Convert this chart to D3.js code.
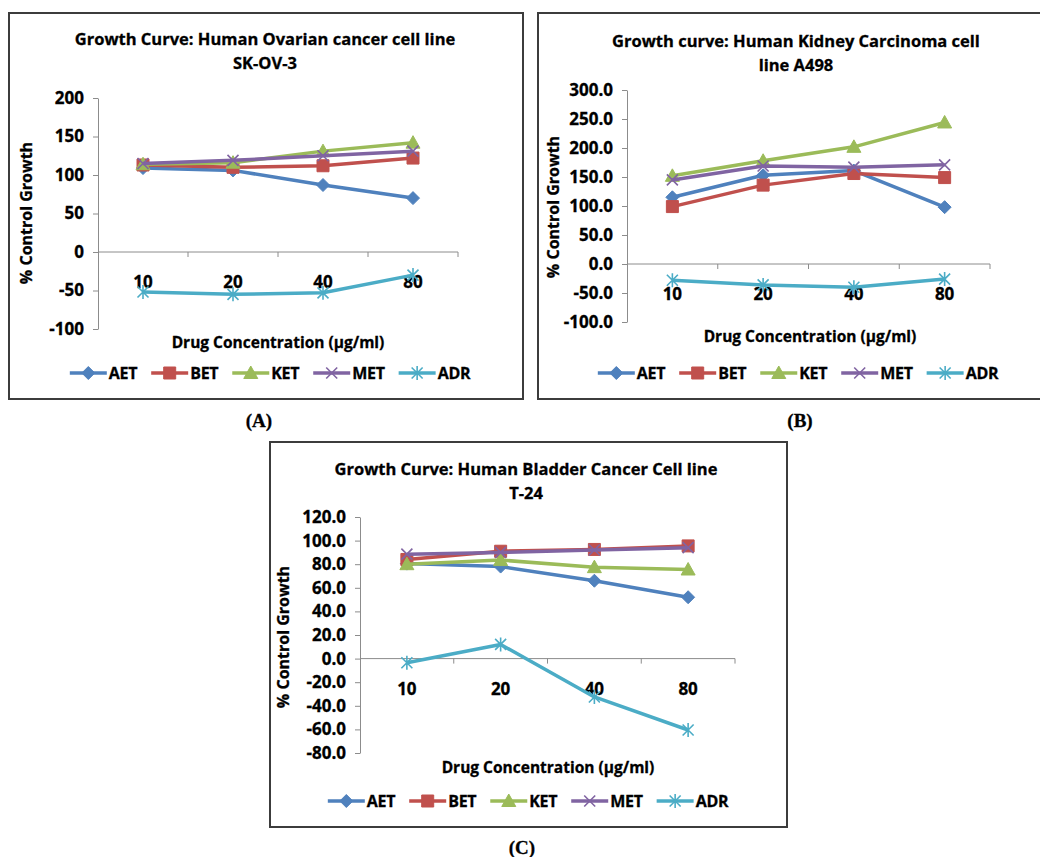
<!DOCTYPE html>
<html>
<head>
<meta charset="utf-8">
<style>
  body { margin: 0; background: #fff; }
  svg { display: block; }
  text { font-family: "Open Sans", Lato, sans-serif; font-weight: 700; fill: #000; stroke: #000; stroke-width: 0.3px; }
  .tick text { font-size: 17px; }
  .axis path, .axis line { stroke: #8c8c8c; }
  .caption { font-family: "Liberation Serif", "DejaVu Serif", serif; font-size: 19px; }
</style>
</head>
<body>
<script src="https://cdn.jsdelivr.net/npm/d3@7/dist/d3.min.js"></script>
<script>
  const categories = ['10', '20', '40', '80'];
  const seriesNames = ['AET', 'BET', 'KET', 'MET', 'ADR'];

  // panel A: SK-OV-3
  const ovarianAET = [109, 106, 87, 70];
  const ovarianBET = [113, 110, 112, 122];
  const ovarianKET = [114, 116, 131, 142];
  const ovarianMET = [115, 119, 125, 131];
  const ovarianADR = [-52, -55, -53, -30];
  const ovarianTicks = [-100, -50, 0, 50, 100, 150, 200];

  // panel B: A498
  const kidneyAET = [115, 153, 161, 98];
  const kidneyBET = [99, 136, 156, 149];
  const kidneyKET = [152, 178, 202, 244];
  const kidneyMET = [145, 169, 167, 171];
  const kidneyADR = [-28, -36, -40, -26];
  const kidneyTicks = [-100, -50, 0, 50, 100, 150, 200, 250, 300];

  // panel C: T-24
  const bladderAET = [80.5, 78, 66, 52];
  const bladderBET = [84, 91, 92.5, 95.5];
  const bladderKET = [80, 83.5, 77.5, 75.5];
  const bladderMET = [88.5, 90, 92, 94];
  const bladderADR = [-3.5, 12, -32.5, -60.5];
  const bladderTicks = [-80, -60, -40, -20, 0, 20, 40, 60, 80, 100, 120];

  const colors = {AET: '#4f81bd', BET: '#c0504d', KET: '#9bbb59', MET: '#8064a2', ADR: '#4bacc6'};

  // plain hyphen for negatives, like the spreadsheet does
  const fmt = spec => {
    const f = d3.format(spec);
    return v => f(v).replace('\u2212', '-');
  };

  const svg = d3.select('body').append('svg')
    .attr('width', 1040)
    .attr('height', 857);

  // marker paths, centred on 0,0
  const marker = {
    AET: 'M0,-6.5L6.5,0L0,6.5L-6.5,0Z',
    BET: 'M-6,-6H6V6H-6Z',
    KET: 'M0,-7L7,5.5L-7,5.5Z',
    MET: 'M-5.5,-5.5L5.5,5.5M5.5,-5.5L-5.5,5.5',
    ADR: 'M-5.5,-5.5L5.5,5.5M5.5,-5.5L-5.5,5.5M0,-7V7'
  };
  const filled = {AET: true, BET: true, KET: true, MET: false, ADR: false};

  function drawMarker(g, name, x, y) {
    g.append('path')
      .attr('d', marker[name])
      .attr('transform', `translate(${x},${y})`)
      .attr('fill', filled[name] ? colors[name] : 'none')
      .attr('stroke', colors[name])
      .attr('stroke-width', filled[name] ? 1 : 1.6);
  }

  function panel(p) {
    const g = svg.append('g');

    g.append('rect')
      .attr('x', p.box[0]).attr('y', p.box[1])
      .attr('width', p.box[2]).attr('height', p.box[3])
      .attr('fill', '#fff')
      .attr('stroke', '#3c3c3c')
      .attr('stroke-width', 2);

    const x = d3.scaleBand().domain(categories).range([p.plot.l, p.plot.r]);
    const y = d3.scaleLinear().domain([p.ticks[0], p.ticks[p.ticks.length - 1]])
      .range([p.plot.b, p.plot.t]);

    // title
    const title = g.append('text')
      .attr('text-anchor', 'middle')
      .style('font-size', '16.5px');
    p.title.forEach((line, i) => {
      title.append('tspan')
        .attr('x', p.titleX)
        .attr('y', p.titleY + i * 24)
        .text(line);
    });

    // y axis
    g.append('g').attr('class', 'axis')
      .attr('transform', `translate(${p.plot.l},0)`)
      .call(d3.axisLeft(y).tickValues(p.ticks).tickSize(5).tickPadding(9)
        .tickFormat(p.format).tickSizeOuter(0));

    // x axis through zero, ticks on category boundaries
    const xg = g.append('g').attr('class', 'axis')
      .attr('transform', `translate(0,${y(0)})`);
    xg.append('line')
      .attr('x1', p.plot.l).attr('x2', p.plot.r);
    xg.selectAll('line.b')
      .data(categories)
      .join('line')
      .attr('class', 'b')
      .attr('x1', d => x(d) + x.bandwidth()).attr('x2', d => x(d) + x.bandwidth())
      .attr('y1', 0).attr('y2', 5);
    xg.selectAll('text')
      .data(categories)
      .join('text')
      .attr('x', d => x(d) + x.bandwidth() / 2)
      .attr('y', 36)
      .attr('text-anchor', 'middle')
      .style('font-size', '17px')
      .text(d => d);
    g.selectAll('.axis path').attr('stroke', '#8c8c8c');

    // axis titles
    g.append('text')
      .attr('transform', `translate(${p.yTitle[0]},${p.yTitle[1]}) rotate(-90)`)
      .attr('text-anchor', 'middle')
      .attr('dy', '0.35em')
      .style('font-size', '16px')
      .text('% Control Growth');
    g.append('text')
      .attr('x', p.xTitle[0]).attr('y', p.xTitle[1])
      .attr('text-anchor', 'middle')
      .attr('dy', '0.35em')
      .style('font-size', '15.5px')
      .text('Drug Concentration (µg/ml)');

    // series
    const line = d3.line()
      .x((d, i) => x(categories[i]) + x.bandwidth() / 2)
      .y(d => y(d));
    seriesNames.forEach(name => {
      const vals = p.series[name];
      g.append('path')
        .attr('d', line(vals))
        .attr('fill', 'none')
        .attr('stroke', colors[name])
        .attr('stroke-width', 3.5)
        .attr('stroke-linejoin', 'round');
      const mg = g.append('g');
      vals.forEach((v, i) => drawMarker(mg, name, x(categories[i]) + x.bandwidth() / 2, y(v)));
    });

    // legend
    const lg = g.append('g');
    let cx = 0;
    seriesNames.forEach(name => {
      const item = lg.append('g').attr('transform', `translate(${cx},0)`);
      item.append('line')
        .attr('x1', 0).attr('x2', 37)
        .attr('stroke', colors[name]).attr('stroke-width', 3.5);
      drawMarker(item, name, 18.5, 0);
      const t = item.append('text')
        .attr('x', 39).attr('dy', '0.35em')
        .style('font-size', '16px')
        .style('letter-spacing', '-0.3px')
        .text(name);
      cx += 39 + t.node().getComputedTextLength() + 14;
    });
    const total = cx - 14;
    lg.attr('transform', `translate(${p.legend[0] - total / 2},${p.legend[1]})`);

    // caption
    svg.append('text')
      .attr('class', 'caption')
      .attr('x', p.caption[0]).attr('y', p.caption[1])
      .attr('text-anchor', 'middle')
      .attr('dy', '0.35em')
      .text(p.label);
  }

  panel({
    box: [9, 13, 514, 386],
    plot: {l: 98, r: 458, t: 98, b: 329},
    ticks: ovarianTicks,
    format: fmt('d'),
    title: ['Growth Curve: Human Ovarian cancer cell line', 'SK-OV-3'],
    titleX: 265, titleY: 45,
    yTitle: [26, 213],
    xTitle: [278, 343],
    legend: [270, 373],
    caption: [259, 420],
    label: '(A)',
    series: {AET: ovarianAET, BET: ovarianBET, KET: ovarianKET, MET: ovarianMET, ADR: ovarianADR}
  });

  panel({
    box: [538, 13, 516, 386],
    plot: {l: 627, r: 990, t: 90, b: 322},
    ticks: kidneyTicks,
    format: fmt('.1f'),
    title: ['Growth curve: Human Kidney Carcinoma cell', 'line A498'],
    titleX: 796, titleY: 47,
    yTitle: [553, 207],
    xTitle: [810, 337],
    legend: [798, 373],
    caption: [800, 420],
    label: '(B)',
    series: {AET: kidneyAET, BET: kidneyBET, KET: kidneyKET, MET: kidneyMET, ADR: kidneyADR}
  });

  panel({
    box: [270, 442, 517, 385],
    plot: {l: 360, r: 735, t: 517, b: 753},
    ticks: bladderTicks,
    format: fmt('.1f'),
    title: ['Growth Curve: Human Bladder Cancer Cell line', 'T-24'],
    titleX: 526, titleY: 475,
    yTitle: [283, 637],
    xTitle: [548, 768],
    legend: [528, 801],
    caption: [522, 847],
    label: '(C)',
    series: {AET: bladderAET, BET: bladderBET, KET: bladderKET, MET: bladderMET, ADR: bladderADR}
  });
</script>
</body>
</html>
